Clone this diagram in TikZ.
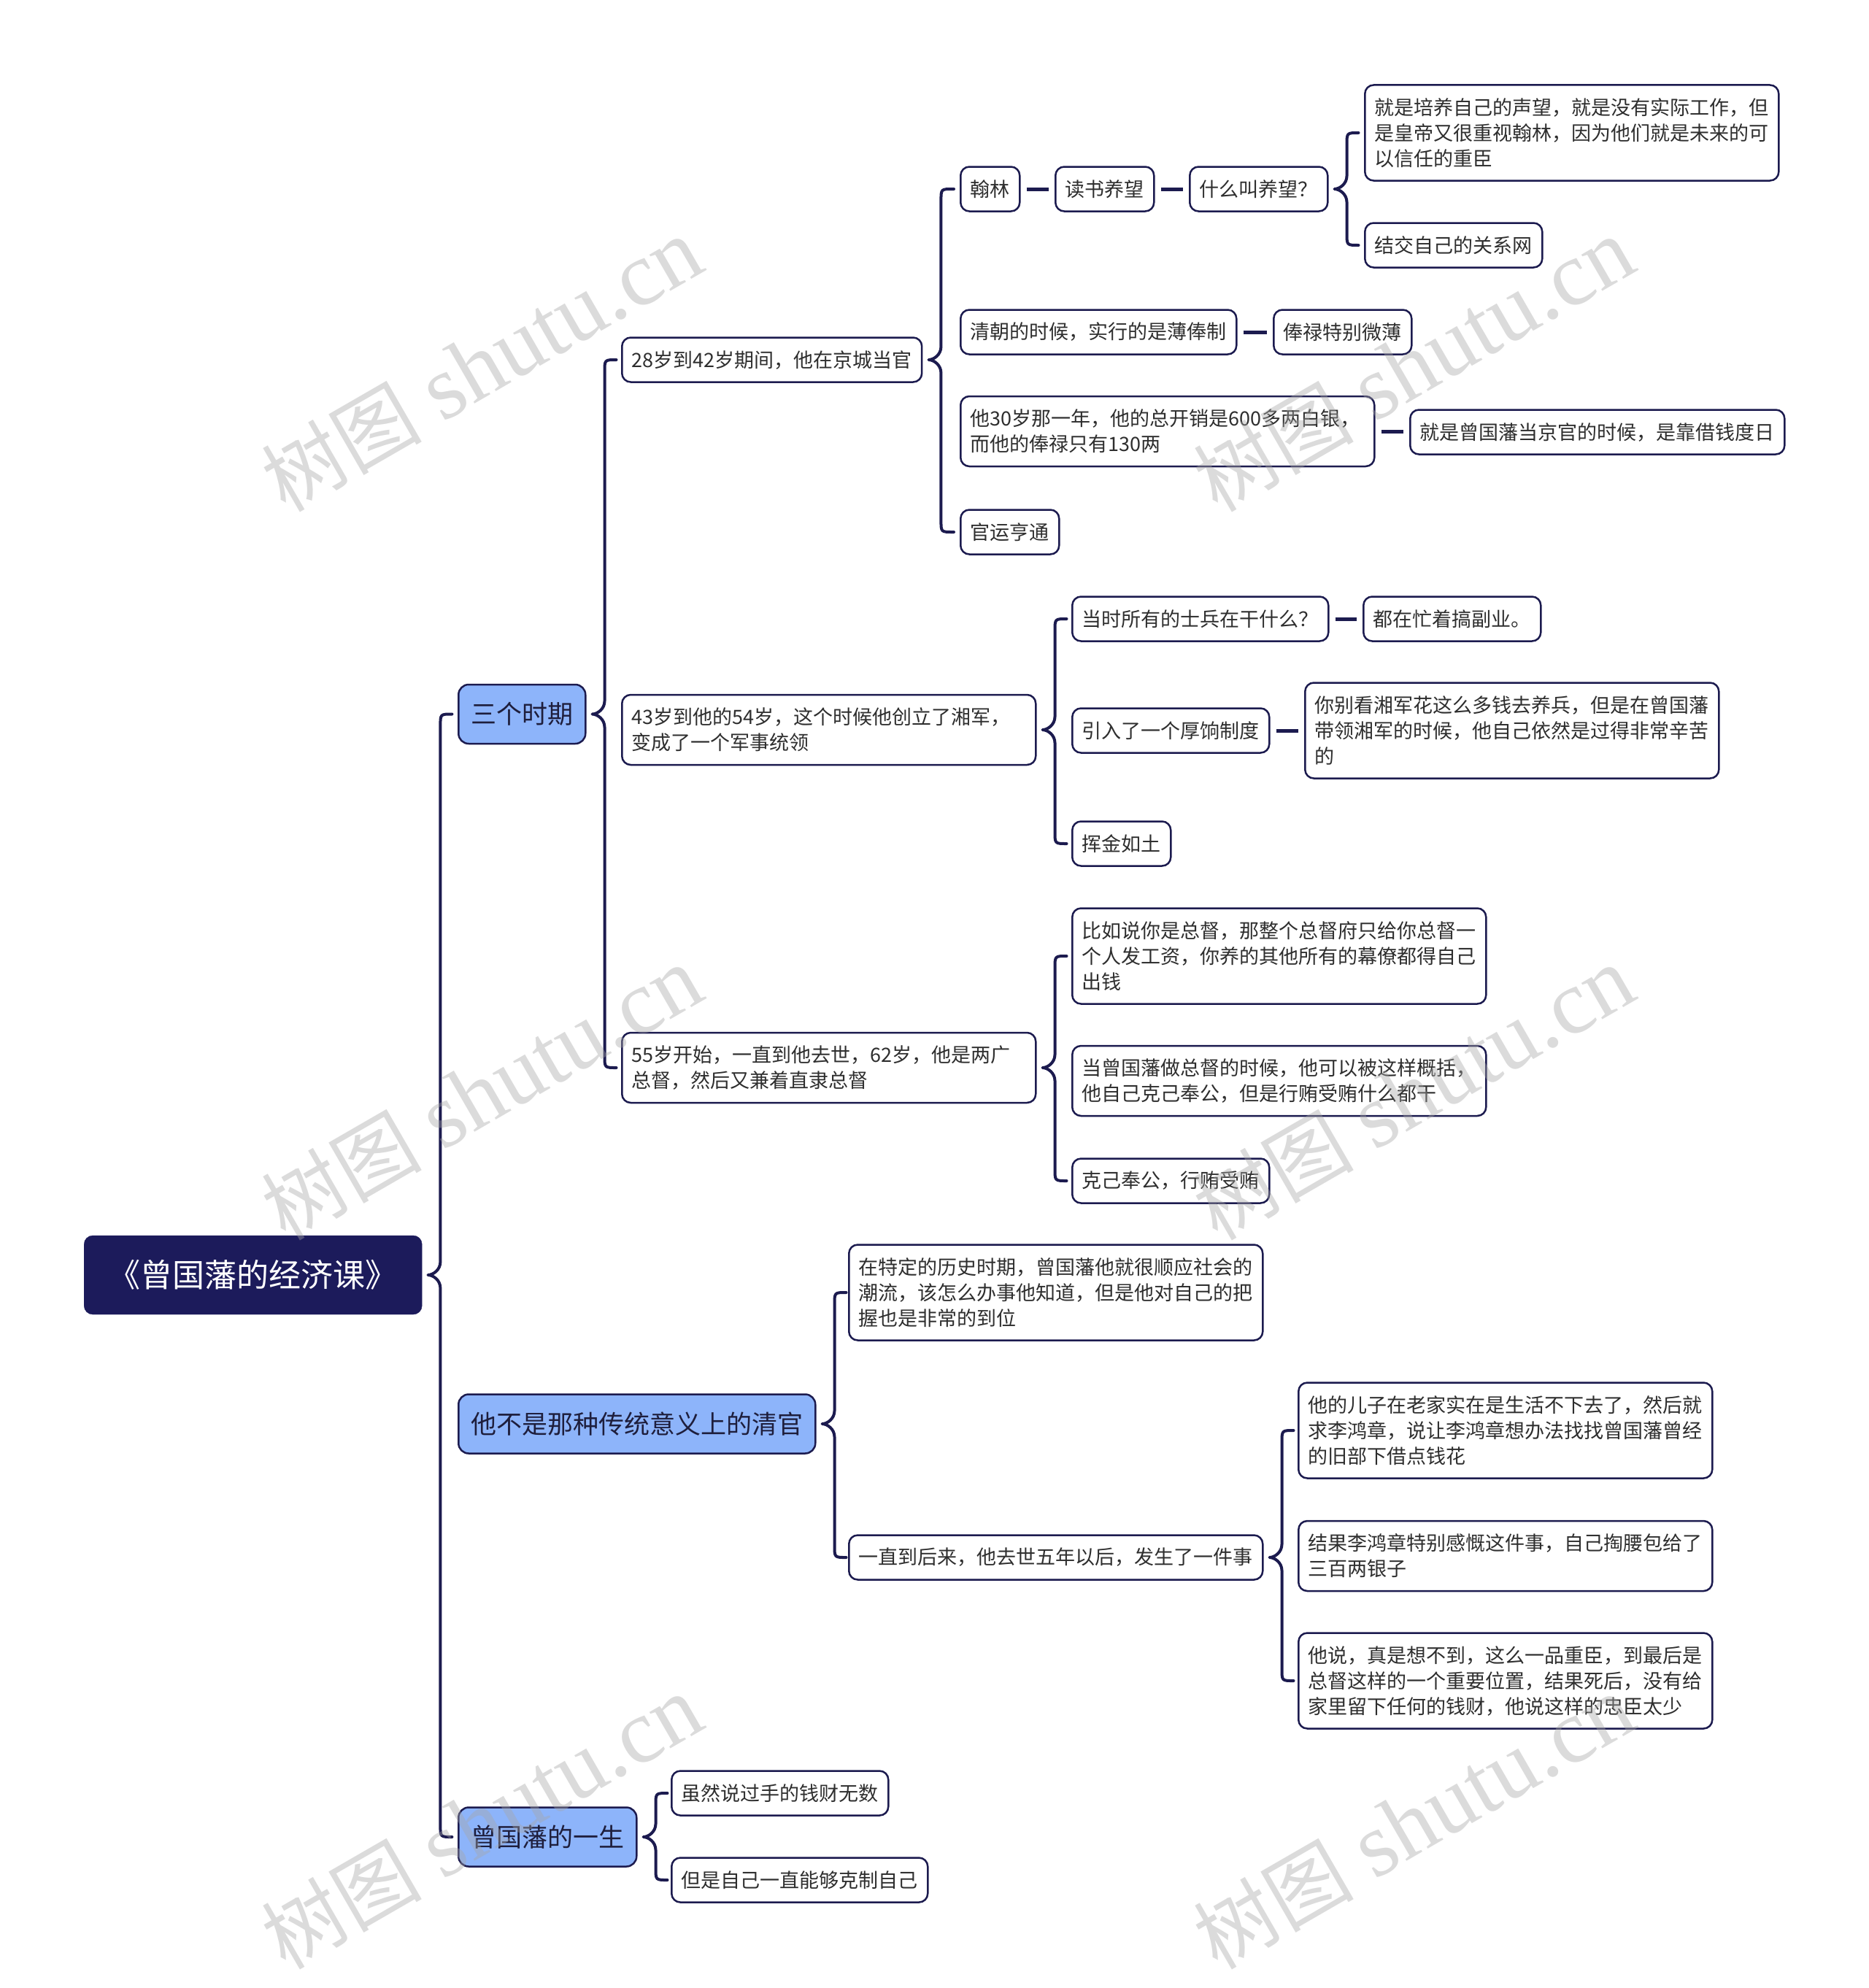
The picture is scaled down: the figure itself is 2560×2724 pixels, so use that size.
\documentclass[tikz,border=0pt]{standalone}
\usepackage{fontspec}
\setmainfont{Noto Sans CJK SC}
\newfontfamily\wmlatin{Liberation Serif}
\usetikzlibrary{calc}
\definecolor{navy}{HTML}{1C1B5B}
\definecolor{lblue}{HTML}{8DB4FA}
\definecolor{edge}{HTML}{1C1B4F}
\definecolor{txt}{HTML}{2E2E2E}
\definecolor{txtdark}{HTML}{1E1E3C}
\newcommand\mmbrace[3]{%
  \draw[conn] let \p1=(#1.east), \p2=(#2.west), \p3=(#3.west),
    \p4=([xshift=8pt]#1.east), \p5=([xshift=25pt]#1.east) in
    (\x2-8pt,\y2) -- (\x5+16pt,\y2) .. controls (\x5,\y2) .. (\x5,\y2-16pt)
    -- (\x5,\y1+18pt) .. controls (\x5,\y1+7pt) and (\x4+7pt,\y1) .. (\x4,\y1)
    .. controls (\x4+7pt,\y1) and (\x5,\y1-7pt) .. (\x5,\y1-18pt)
    -- (\x5,\y3+16pt) .. controls (\x5,\y3) .. (\x5+16pt,\y3) -- (\x3-8pt,\y3);}
\newcommand\mmline[2]{\draw[sline] ([xshift=8pt]#1.east) -- ([xshift=-8pt]#1.east -| #2.west);}
\begin{document}
\begin{tikzpicture}[x=1pt,y=-1pt,
  leaf/.style={draw=edge, line width=2.5pt, fill=white, rounded corners=12pt, anchor=west,
    inner xsep=13.5pt, inner ysep=0pt, minimum height=61pt, text=txt,
    font=\fontsize{27pt}{35pt}\selectfont, align=left},
  mltwo/.style={text width=540pt, minimum height=96pt},
  mlthree/.style={text width=540pt, minimum height=131pt},
  topic/.style={draw=edge, line width=2.5pt, fill=lblue, rounded corners=14pt, anchor=west,
    inner xsep=17pt, inner ysep=0pt, minimum height=81pt, text=txtdark,
    font=\fontsize{35pt}{42pt}\selectfont},
  rootbox/.style={fill=navy, draw=navy, rounded corners=12pt, anchor=west,
    inner xsep=33.5pt, inner ysep=0pt, minimum height=108pt, text=white,
    font=\fontsize{44pt}{52pt}\selectfont},
  conn/.style={draw=edge, line width=4pt, line cap=round, line join=round},
  sline/.style={draw=edge, line width=5pt},
  wm/.style={text=black!35, opacity=0.4, inner sep=0pt}
]
\fill[white] (0,0) rectangle (2560,2724);
\useasboundingbox (0,0) rectangle (2560,2724);

\node[rootbox] (R) at (115,1747) {《曾国藩的经济课》};
\node[topic] (A) at (627,978.5) {三个时期};
\node[topic] (B) at (627,1951) {他不是那种传统意义上的清官};
\node[topic] (C) at (627,2517) {曾国藩的一生};

\node[leaf] (A1) at (851,493) {28岁到42岁期间，他在京城当官};
\node[leaf,mltwo] (A2) at (851,1000) {43岁到他的54岁，这个时候他创立了湘军，\\变成了一个军事统领};
\node[leaf,mltwo] (A3) at (851,1463) {55岁开始，一直到他去世，62岁，他是两广\\总督，然后又兼着直隶总督};

\node[leaf] (A11) at (1315,259) {翰林};
\node[leaf] (A111) at (1445,259) {读书养望};
\node[leaf] (A1111) at (1629,259) {什么叫养望？};
\node[leaf,mlthree] (A11111) at (1869,182) {就是培养自己的声望，就是没有实际工作，但\\是皇帝又很重视翰林，因为他们就是未来的可\\以信任的重臣};
\node[leaf] (A11112) at (1869,336) {结交自己的关系网};
\node[leaf] (A12) at (1315,455) {清朝的时候，实行的是薄俸制};
\node[leaf] (A121) at (1744,455) {俸禄特别微薄};
\node[leaf,mltwo] (A13) at (1315,591) {他30岁那一年，他的总开销是600多两白银，\\而他的俸禄只有130两};
\node[leaf] (A131) at (1931,592) {就是曾国藩当京官的时候，是靠借钱度日};
\node[leaf] (A14) at (1315,729) {官运亨通};

\node[leaf] (A21) at (1468,848) {当时所有的士兵在干什么？};
\node[leaf] (A211) at (1867,848) {都在忙着搞副业。};
\node[leaf] (A22) at (1468,1001) {引入了一个厚饷制度};
\node[leaf,mlthree] (A221) at (1787,1001) {你别看湘军花这么多钱去养兵，但是在曾国藩\\带领湘军的时候，他自己依然是过得非常辛苦\\的};
\node[leaf] (A23) at (1468,1156) {挥金如土};

\node[leaf,mlthree] (A31) at (1468,1310) {比如说你是总督，那整个总督府只给你总督一\\个人发工资，你养的其他所有的幕僚都得自己\\出钱};
\node[leaf,mltwo] (A32) at (1468,1481) {当曾国藩做总督的时候，他可以被这样概括，\\他自己克己奉公，但是行贿受贿什么都干};
\node[leaf] (A33) at (1468,1618) {克己奉公，行贿受贿};

\node[leaf,mlthree] (B1) at (1162,1771) {在特定的历史时期，曾国藩他就很顺应社会的\\潮流，该怎么办事他知道，但是他对自己的把\\握也是非常的到位};
\node[leaf] (B2) at (1162,2134) {一直到后来，他去世五年以后，发生了一件事};
\node[leaf,mlthree] (B21) at (1778,1960) {他的儿子在老家实在是生活不下去了，然后就\\求李鸿章，说让李鸿章想办法找找曾国藩曾经\\的旧部下借点钱花};
\node[leaf,mltwo] (B22) at (1778,2132) {结果李鸿章特别感慨这件事，自己掏腰包给了\\三百两银子};
\node[leaf,mlthree] (B23) at (1778,2303) {他说，真是想不到，这么一品重臣，到最后是\\总督这样的一个重要位置，结果死后，没有给\\家里留下任何的钱财，他说这样的忠臣太少};

\node[leaf] (C1) at (919,2457) {虽然说过手的钱财无数};
\node[leaf] (C2) at (919,2576) {但是自己一直能够克制自己};

\mmbrace{R}{A}{C}
\mmbrace{A}{A1}{A3}
\mmbrace{A1}{A11}{A14}
\mmbrace{A1111}{A11111}{A11112}
\mmbrace{A2}{A21}{A23}
\mmbrace{A3}{A31}{A33}
\mmbrace{B}{B1}{B2}
\mmbrace{B2}{B21}{B23}
\mmbrace{C}{C1}{C2}
\mmline{A11}{A111}
\mmline{A111}{A1111}
\mmline{A12}{A121}
\mmline{A13}{A131}
\mmline{A21}{A211}
\mmline{A22}{A221}

\foreach \wx/\wy [count=\i] in {660/500, 1937/500, 660/1498, 1937/1498, 660/2497, 1937/2497}{
  \node[wm, rotate=30] (wm\i) at (\wx,\wy) {{\fontsize{110pt}{110pt}\selectfont 树图}\hspace{28pt}{\wmlatin\fontsize{125pt}{125pt}\selectfont shutu.cn}};
}
\end{tikzpicture}
\end{document}
